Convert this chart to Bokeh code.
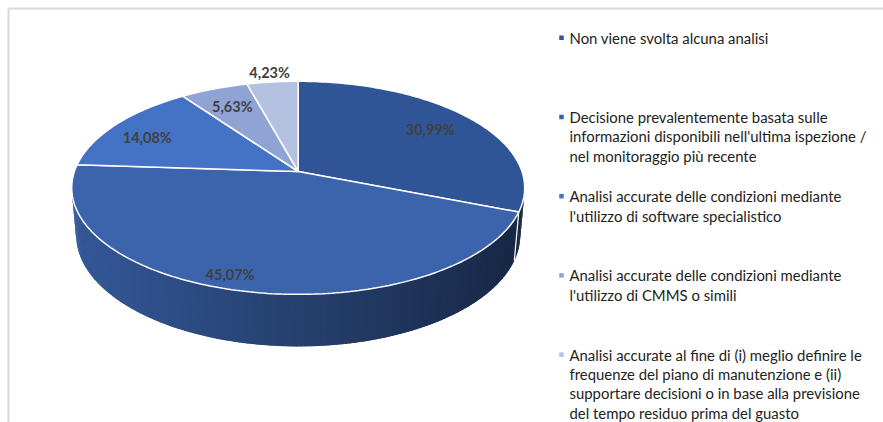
import math
from bokeh.plotting import figure
from bokeh.models import Range1d
from bokeh.core.properties import value
from bokeh.embed import file_html
from bokeh.resources import INLINE

# ---------------- data ----------------
categories = [
    "Non viene svolta alcuna analisi",
    "Decisione prevalentemente basata sulle informazioni disponibili nell'ultima ispezione / nel monitoraggio più recente",
    "Analisi accurate delle condizioni mediante l'utilizzo di software specialistico",
    "Analisi accurate delle condizioni mediante l'utilizzo di CMMS o simili",
    "Analisi accurate al fine di (i) meglio definire le frequenze del piano di manutenzione e (ii) supportare decisioni o in base alla previsione del tempo residuo prima del guasto",
]
legend_lines = [
    ["Non viene svolta alcuna analisi"],
    ["Decisione prevalentemente basata sulle",
     "informazioni disponibili nell'ultima ispezione /",
     "nel monitoraggio più recente"],
    ["Analisi accurate delle condizioni mediante",
     "l'utilizzo di software specialistico"],
    ["Analisi accurate delle condizioni mediante",
     "l'utilizzo di CMMS o simili"],
    ["Analisi accurate al fine di (i) meglio definire le",
     "frequenze del piano di manutenzione e (ii)",
     "supportare decisioni o in base alla previsione",
     "del tempo residuo prima del guasto"],
]
values = [30.99, 45.07, 14.08, 5.63, 4.23]
value_labels = ["30,99%", "45,07%", "14,08%", "5,63%", "4,23%"]

# ---------------- style ----------------
colors = ["#2F5597", "#3B64AD", "#4472C4", "#8FA3D4", "#B4C1E1"]
label_radius = [0.76, 0.90, 0.79, 0.76, 1.13]
label_angle_nudge = [0.0, 4.4, -3.2, 0.0, 0.0]

W, H = 883, 422
X0, Y0 = 0, 0

# 3D projection parameters
CX, CY = 297.7, 171.0
SCALE = 223.8
TILT = math.radians(27.7)
SN, CS = math.sin(TILT), math.cos(TILT)
DIST = 6.525 * CS
DEPTH = 0.2394


def proj(theta_deg, r, h):
    t = math.radians(theta_deg)
    X = r * math.sin(t)
    Z = r * math.cos(t)
    yup = Z * SN + h * CS
    dep = DIST + Z * CS - h * SN
    k = DIST / dep
    return CX + SCALE * X * k, CY - SCALE * yup * k


def shade(hexcol, f):
    r = int(hexcol[1:3], 16); g = int(hexcol[3:5], 16); b = int(hexcol[5:7], 16)
    return "#%02x%02x%02x" % (int(r * f), int(g * f), int(b * f))


p = figure(width=W, height=H, output_backend="svg", toolbar_location=None,
           x_range=Range1d(X0, X0 + W), y_range=Range1d(Y0 + H, Y0),
           x_axis_type=None, y_axis_type=None, min_border=0,
           outline_line_color=None, background_fill_color="white")
p.grid.visible = False

# chart border (top and left visible)
p.segment(x0=[8, 8], y0=[8, 8], x1=[X0 + W, 8], y1=[8, Y0 + H],
          line_color="#D9D9D9", line_width=2)

total = sum(values)
bounds = [0.0]
for v in values:
    bounds.append(bounds[-1] + v / total * 360.0)

# visible range of the side wall (silhouette)
sil = math.degrees(math.acos(-1.0 / 6.525))
vis_lo, vis_hi = sil, 360.0 - sil

# --- side wall strips with horizontal shading (overlapping to avoid seams) ---
xl, xr = 72.0, 524.0
sxs, sys_, scol = [], [], []
for i, v in enumerate(values):
    a0 = max(bounds[i], vis_lo)
    a1 = min(bounds[i + 1], vis_hi)
    if a1 <= a0:
        continue
    n = max(2, int((a1 - a0) / 1.0))
    step = (a1 - a0) / n
    for j in range(n):
        t0 = a0 + step * j
        t1 = min(a0 + step * (j + 1.8), a1)
        p1 = proj(t0, 1, 0.02); p2 = proj(t1, 1, 0.02)
        p3 = proj(t1, 1, -DEPTH); p4 = proj(t0, 1, -DEPTH)
        xm = (proj(t0, 1, 0)[0] + proj(a0 + step * (j + 1), 1, 0)[0]) / 2
        f = 0.88 + (0.40 - 0.88) * (xm - xl) / (xr - xl)
        f = min(max(f, 0.38), 0.9)
        sxs.append([p1[0], p2[0], p3[0], p4[0]])
        sys_.append([p1[1], p2[1], p3[1], p4[1]])
        scol.append(shade(colors[i], f))
p.patches(xs=sxs, ys=sys_, fill_color=scol, line_color=None)

# white separators on the side wall
for b in bounds[1:-1]:
    if vis_lo < b < vis_hi:
        a = proj(b, 1, 0); c = proj(b, 1, -DEPTH)
        p.line([a[0], c[0]], [a[1], c[1]], line_color="white", line_width=1.2)

# --- top surface slices ---
txs, tys = [], []
for i, v in enumerate(values):
    a0, a1 = bounds[i], bounds[i + 1]
    n = max(4, int((a1 - a0) / 1.0))
    xs = [CX]; ys = [proj(0, 0, 0)[1]]
    for j in range(n + 1):
        t = a0 + (a1 - a0) * j / n
        x, y = proj(t, 1, 0)
        xs.append(x); ys.append(y)
    txs.append(xs); tys.append(ys)
p.patches(xs=txs, ys=tys, fill_color=colors, line_color="white", line_width=1.5)

# --- value labels ---
lx, ly = [], []
for i, v in enumerate(values):
    mid = (bounds[i] + bounds[i + 1]) / 2 + label_angle_nudge[i]
    x, y = proj(mid, label_radius[i], 0)
    lx.append(x); ly.append(y)
p.text(x=lx, y=ly, text=value_labels, text_font=value("Lato"),
       text_font_style="bold", text_font_size="14.5px", text_color="#404040",
       text_align="center", text_baseline="middle")

# --- legend ---
leg_x_marker, leg_x_text = 561.0, 569.0
leg_y0, leg_step, line_step = 37.3, 79.2, 19.3
mx, my, tx, ty, tt = [], [], [], [], []
for i, lines in enumerate(legend_lines):
    yb = leg_y0 + i * leg_step
    mx.append(leg_x_marker); my.append(yb)
    for j, line in enumerate(lines):
        tx.append(leg_x_text); ty.append(yb + j * line_step); tt.append(line)
p.rect(x=mx, y=my, width=4.5, height=4.5, fill_color=colors, line_color=None)
p.text(x=tx, y=ty, text=tt, text_font=value("Lato"), text_font_size="14.9px",
       text_color="#222222", text_align="left", text_baseline="middle")

open("out.html", "w").write(file_html(p, INLINE))
